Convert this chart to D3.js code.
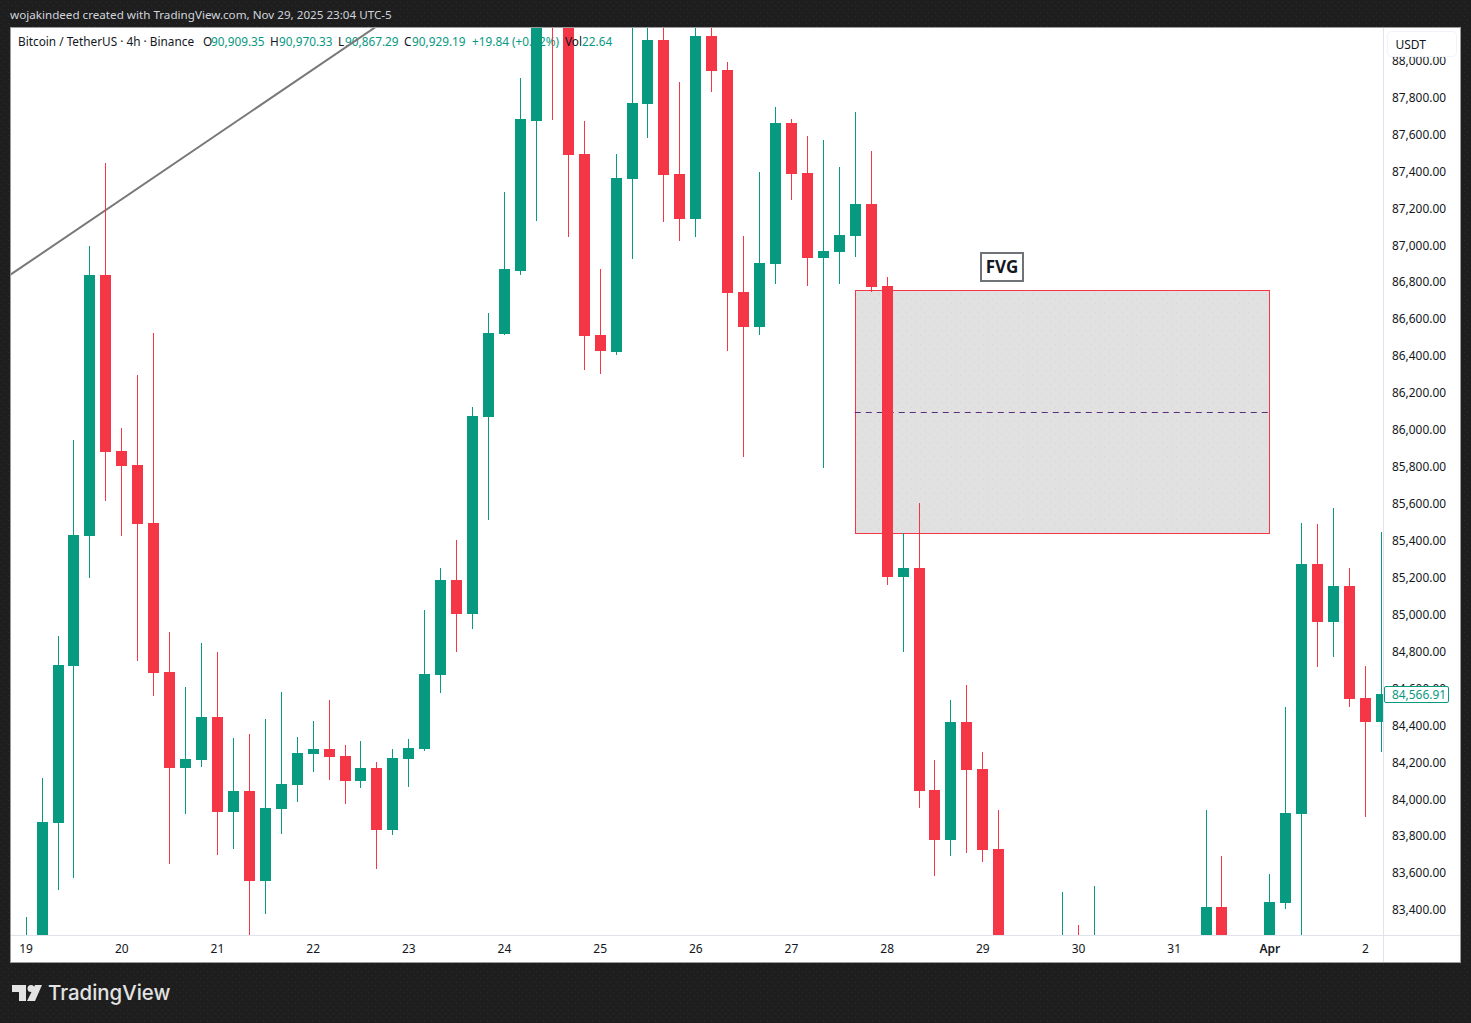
<!DOCTYPE html>
<html>
<head>
<meta charset="utf-8">
<script src="https://cdn.jsdelivr.net/npm/d3@7"></script>
<style>
  html, body { margin: 0; padding: 0; background: #1e1e1e; }
  svg { display: block; font-family: "Noto Sans", sans-serif; }
</style>
</head>
<body>
<div id="chart"></div>
<script>
// 4h candles (candles under the bottom edge are estimates)
const opens = [83120,83190,83869,84719,85423,86836,85883,85807,85493,84686,84166,84210,84443,83928,84042,83555,83944,84074,84242,84269,84231,84096,84166,83830,84215,84269,84670,85184,85000,86067,86517,86858,87670,88300,88210,87491,86511,86419,87356,87762,88109,87383,87139,88130,87946,86744,86554,86896,87659,87388,86928,86961,87047,87221,86777,85201,85250,84047,83776,84415,84161,83728,83100,82800,82600,82850,83150,82700,83000,82700,82900,82500,82800,82950,83100,83414,83100,82800,83050,83435,83917,85271,84957,85152,84545,84415];
const highs = [83360,84112,84881,85943,86993,87443,86008,86295,86522,84903,84605,84843,84795,84329,84350,84432,84578,84334,84421,84535,84291,84313,84199,84269,84323,85022,85250,85401,86121,86630,87286,87903,88300,88400,88350,87670,86869,87491,88300,88250,88250,87881,88300,88250,87990,87047,87394,87746,87681,87589,87567,87421,87719,87508,86825,85439,85601,84210,84535,84616,84253,83939,83230,83000,83050,83495,83316,83527,83200,83100,83150,82950,83100,83200,83939,83690,83230,83200,83593,84497,85493,85488,85574,85250,84719,85444];
const lows = [83080,83150,83506,83571,85195,85612,85423,84746,84556,83646,83917,84172,83695,83728,83250,83376,83809,83982,84145,84101,83971,84058,83620,83803,84064,84258,84573,84795,84919,85509,86510,86836,87129,87675,87042,86322,86300,86403,86923,87578,87123,87020,87042,87827,86425,85850,86511,86787,87242,86777,85791,86787,86934,86744,85157,84795,83950,83582,83690,83706,83657,83200,82700,82500,82400,82700,82500,82300,82600,82500,82300,82200,82400,82700,82900,82900,82600,82500,82900,83403,83200,84713,84767,84497,83901,84253];
const closes = [83190,83874,84724,85428,86836,85878,85802,85488,84681,84166,84215,84443,83928,84042,83555,83950,84080,84248,84269,84226,84096,84166,83830,84221,84275,84675,85184,85000,86073,86522,86869,87681,88250,88200,87486,86506,86425,87361,87768,88109,87378,87139,88130,87941,86739,86554,86901,87659,87383,86928,86966,87053,87221,86771,85201,85250,84042,83776,84415,84155,83722,83100,82800,82600,82850,83150,82700,83000,82700,82900,82500,82800,82950,83100,83414,83100,82800,83050,83441,83923,85271,84957,85152,84540,84415,84566.91];

const priceTicks = d3.range(83400, 88001, 200);
const dayTicks = [0, 6, 12, 18, 24, 30, 36, 42, 48, 54, 60, 66, 72, 78, 84];
const dayLabels = ["19","20","21","22","23","24","25","26","27","28","29","30","31","Apr","2"];

// FVG box and the trend line, as candle index / price
const fvgIndex = [52, 77.97];
const fvgPrices = [86756, 85439];
const fvgMid = 86095;
const fvgLabel = { index: 61.2, price: 86879, text: "FVG" };
const trendIndex = [-0.98, 21.95];
const trendPrices = [86836, 88179];

const legendParts = [
  { x: 18, text: "Bitcoin / TetherUS · 4h · Binance", color: "#131722" },
  { x: 203, text: "O", color: "#131722" },
  { x: 211, text: "90,909.35", color: "#089981" },
  { x: 270, text: "H", color: "#131722" },
  { x: 279, text: "90,970.33", color: "#089981" },
  { x: 338, text: "L", color: "#131722" },
  { x: 345, text: "90,867.29", color: "#089981" },
  { x: 404, text: "C", color: "#131722" },
  { x: 412, text: "90,929.19", color: "#089981" },
  { x: 472, text: "+19.84 (+0.02%)", color: "#089981" },
];

const upColor = "#089981";
const downColor = "#f43647";
const lastPrice = closes[closes.length - 1];

const width = 1471;
const height = 1023;
const plot = { left: 11, right: 1383, top: 28, bottom: 935 };

const x = d3.scaleLinear().domain([0, 85]).range([25.62, 1380.95]);
const y = d3.scaleLinear().domain([87800, 83400]).range([97, 909.5]);

const svg = d3
  .select("#chart")
  .append("svg")
  .attr("width", width)
  .attr("height", height);

const defs = svg.append("defs");
defs
  .append("clipPath")
  .attr("id", "plot-clip")
  .append("rect")
  .attr("x", plot.left)
  .attr("y", plot.top)
  .attr("width", plot.right - plot.left)
  .attr("height", plot.bottom - plot.top);

// Faint dots on the dark surround and inside the FVG box
const bgDots = defs
  .append("pattern")
  .attr("id", "bg-dots")
  .attr("width", 7)
  .attr("height", 7)
  .attr("patternUnits", "userSpaceOnUse");
bgDots.append("rect").attr("width", 7).attr("height", 7).attr("fill", "#1e1e1e");
bgDots.append("rect").attr("x", 1).attr("y", 2).attr("width", 1).attr("height", 1).attr("fill", "#2c2c2c");
bgDots.append("rect").attr("x", 4).attr("y", 5).attr("width", 1).attr("height", 1).attr("fill", "#2c2c2c");

const boxDots = defs
  .append("pattern")
  .attr("id", "box-dots")
  .attr("width", 9)
  .attr("height", 9)
  .attr("patternUnits", "userSpaceOnUse");
boxDots.append("rect").attr("width", 9).attr("height", 9).attr("fill", "#e1e1e1");
boxDots.append("rect").attr("x", 2).attr("y", 2).attr("width", 1).attr("height", 1).attr("fill", "#d4d4d4");
boxDots.append("rect").attr("x", 6).attr("y", 6).attr("width", 1).attr("height", 1).attr("fill", "#d4d4d4");

svg.append("rect").attr("width", width).attr("height", height).attr("fill", "url(#bg-dots)");

// Chart frame and separators
svg
  .append("rect")
  .attr("x", 10.5)
  .attr("y", 27.5)
  .attr("width", 1450)
  .attr("height", 935)
  .attr("fill", "#ffffff")
  .attr("stroke", "#9b9b9b");
svg.append("line").attr("x1", plot.right + 0.5).attr("x2", plot.right + 0.5).attr("y1", 28).attr("y2", 962).attr("stroke", "#e0e3eb");
svg.append("line").attr("x1", 11).attr("x2", 1460).attr("y1", plot.bottom + 0.5).attr("y2", plot.bottom + 0.5).attr("stroke", "#e0e3eb");

svg
  .append("text")
  .attr("x", 10)
  .attr("y", 19)
  .attr("fill", "#d1d4dc")
  .attr("font-size", 11.65)
  .text("wojakindeed created with TradingView.com, Nov 29, 2025 23:04 UTC-5");

// Symbol line sits under the candles
const legend = svg.append("g").attr("font-size", 11.8);
legend
  .selectAll("text")
  .data(legendParts)
  .enter()
  .append("text")
  .attr("x", (d) => d.x)
  .attr("y", 46)
  .attr("fill", (d) => d.color)
  .text((d) => d.text);

const chart = svg.append("g").attr("clip-path", "url(#plot-clip)");

// FVG box goes below the candles
chart
  .append("rect")
  .attr("x", Math.round(x(fvgIndex[0])) + 0.5)
  .attr("y", Math.round(y(fvgPrices[0])) + 0.5)
  .attr("width", Math.round(x(fvgIndex[1]) - x(fvgIndex[0])))
  .attr("height", Math.round(y(fvgPrices[1]) - y(fvgPrices[0])))
  .attr("fill", "url(#box-dots)")
  .attr("stroke", downColor);
chart
  .append("line")
  .attr("x1", x(fvgIndex[0]))
  .attr("x2", x(fvgIndex[1]))
  .attr("y1", Math.round(y(fvgMid)) + 0.5)
  .attr("y2", Math.round(y(fvgMid)) + 0.5)
  .attr("stroke", "#5b2c7a")
  .attr("stroke-dasharray", "6,5");

chart
  .append("line")
  .attr("x1", x(trendIndex[0]))
  .attr("y1", y(trendPrices[0]))
  .attr("x2", x(trendIndex[1]))
  .attr("y2", y(trendPrices[1]))
  .attr("stroke", "#787878")
  .attr("stroke-width", 2);

// Candles
const candle = chart
  .selectAll(".candle")
  .data(d3.range(opens.length))
  .enter()
  .append("g")
  .attr("class", "candle")
  .attr("fill", (i) => (closes[i] >= opens[i] ? upColor : downColor))
  .attr("shape-rendering", "crispEdges");
candle
  .append("rect")
  .attr("x", (i) => Math.round(x(i)))
  .attr("y", (i) => y(highs[i]))
  .attr("width", 1)
  .attr("height", (i) => y(lows[i]) - y(highs[i]));
candle
  .append("rect")
  .attr("x", (i) => Math.round(x(i)) - 5)
  .attr("y", (i) => Math.round(y(Math.max(opens[i], closes[i]))))
  .attr("width", 11)
  .attr("height", (i) => Math.max(1, Math.round(Math.abs(y(opens[i]) - y(closes[i])))));

// Volume figure stays readable on top of the red candle
const vol = svg.append("text").attr("x", 565).attr("y", 46).attr("font-size", 11.8).attr("fill", "#131722");
vol.append("tspan").text("Vol");
vol.append("tspan").attr("fill", "#089981").text("22.64");

// FVG label
const labelX = x(fvgLabel.index);
const labelY = y(fvgLabel.price);
svg
  .append("rect")
  .attr("x", Math.round(labelX) - 20)
  .attr("y", Math.round(labelY) - 14)
  .attr("width", 42)
  .attr("height", 28)
  .attr("fill", "#ffffff")
  .attr("stroke", "#6f7378")
  .attr("stroke-width", 2);
svg
  .append("text")
  .attr("x", Math.round(labelX) + 1)
  .attr("y", labelY + 1)
  .attr("text-anchor", "middle")
  .attr("dominant-baseline", "middle")
  .attr("font-size", 17)
  .attr("font-weight", 700)
  .attr("fill", "#131722")
  .text(fvgLabel.text);

// Price axis
const priceAxis = d3
  .axisRight(y)
  .tickValues(priceTicks)
  .tickSize(0)
  .tickPadding(0)
  .tickFormat(d3.format(",.2f"));
const priceG = svg.append("g").attr("transform", "translate(1392,0.5)").call(priceAxis);
priceG.select(".domain").remove();
priceG.selectAll("text").attr("font-family", "'Noto Sans', sans-serif").attr("font-size", 11.9).attr("fill", "#131722");

// Time axis
const timeAxis = d3
  .axisBottom(x)
  .tickValues(dayTicks)
  .tickSize(0)
  .tickPadding(0)
  .tickFormat((d) => dayLabels[dayTicks.indexOf(d)]);
const timeG = svg.append("g").attr("transform", "translate(0,944)").call(timeAxis);
timeG.select(".domain").remove();
timeG
  .selectAll("text")
  .attr("font-family", "'Noto Sans', sans-serif")
  .attr("font-size", 12)
  .attr("fill", "#131722")
  .attr("font-weight", (d) => (dayLabels[dayTicks.indexOf(d)] === "Apr" ? 600 : 400));

// Currency chip over the top of the scale
svg
  .append("rect")
  .attr("x", 1387.5)
  .attr("y", 31.5)
  .attr("width", 69)
  .attr("height", 25)
  .attr("rx", 4)
  .attr("fill", "#ffffff")
  .attr("stroke", "#f0f3fa");
svg.append("text").attr("x", 1395.5).attr("y", 49).attr("font-size", 12).attr("fill", "#131722").text("USDT");

// Last price tag
svg
  .append("rect")
  .attr("x", 1384.5)
  .attr("y", Math.round(y(lastPrice)) - 7.5)
  .attr("width", 64)
  .attr("height", 16)
  .attr("rx", 1.5)
  .attr("fill", "#ffffff")
  .attr("stroke", upColor);
svg
  .append("text")
  .attr("x", 1392)
  .attr("y", Math.round(y(lastPrice)) + 5)
  .attr("font-size", 11.9)
  .attr("fill", upColor)
  .text(d3.format(",.2f")(lastPrice));

// Footer logo and name
const logo = svg.append("g").attr("fill", "#e3e3e3");
logo.append("path").attr("d", "M12 985H26V1001H19V992H12Z");
logo.append("circle").attr("cx", 31).attr("cy", 988.5).attr("r", 3.5);
logo.append("path").attr("d", "M35 985H42L35 1001H27Z");
svg
  .append("text")
  .attr("x", 48)
  .attr("y", 1000)
  .attr("font-family", "Inter, sans-serif")
  .attr("font-size", 20.4)
  .attr("font-weight", 500)
  .attr("fill", "#e3e3e3")
  .text("TradingView");
</script>
</body>
</html>
